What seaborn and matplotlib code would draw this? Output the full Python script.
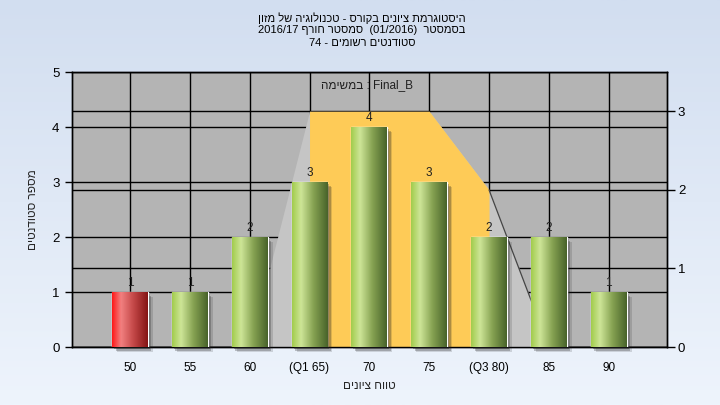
import numpy as np
import matplotlib
matplotlib.use("Agg")
import matplotlib.pyplot as plt
import matplotlib.transforms as mtransforms
from matplotlib.patches import Rectangle
from matplotlib.colors import LinearSegmentedColormap
import seaborn as sns

# נתונים
grades = ["50", "55", "60", "(Q1 65)", "70", "75", "(Q3 80)", "85", "90"]
counts = [1, 1, 2, 3, 4, 3, 2, 2, 1]
curve = [0, 0, 0, 3, 3, 3, 2, 0, 0]      # right axis area
q1_idx, q3_idx = 3, 6
fail_idx = 0


def heb(s):
    # matplotlib has no bidi, so flip the hebrew to visual order
    return s[::-1]


title_lines = [
    heb("היסטוגרמת ציונים בקורס - טכנולוגיה של מזון"),
    "2016/17 " + heb("סמסטר חורף") + "  (01/2016)  " + heb("בסמסטר"),
    "74 - " + heb("סטודנטים רשומים"),
]
task_text = heb("במשימה") + " : Final_B"
x_title = heb("טווח ציונים")
y_title = heb("מספר סטודנטים")

sns.set_style("white")
plt.rcParams['font.family'] = ['Liberation Sans', 'DejaVu Sans']

fig = plt.figure(figsize=(7.2, 4.05), dpi=100)

# רקע מדורג
bg = fig.add_axes([0, 0, 1, 1], zorder=-10)
grad = np.linspace(0, 1, 256).reshape(-1, 1)
bg_cmap = LinearSegmentedColormap.from_list("bg", ["#d2def0", "#eef4fc"])
bg.imshow(grad, cmap=bg_cmap, aspect='auto', extent=(0, 1, 0, 1))
bg.axis('off')

pos = [0.1, 0.1432, 0.826, 0.679]
xs = np.arange(len(grades))
xlim = (-0.97, 8.97)

ax = fig.add_axes(pos)
ax.set_facecolor("#b4b4b4")
ax.set_xlim(*xlim)
ax.set_ylim(0, 5)
ax.set_xticks(xs)
ax.set_xticklabels(grades, fontsize=8.5)
ax.set_yticks(range(6))
ax.tick_params(axis='y', labelsize=9.5, length=5, width=1, pad=4, colors='black')
ax.tick_params(axis='x', length=5, width=1, pad=6, colors='black')
ax.grid(True, color='black', lw=1)
ax.set_axisbelow(True)
for s in ax.spines.values():
    s.set_color('black')
    s.set_linewidth(1)
ax.set_xlabel(x_title, fontsize=8.5, labelpad=4)
ax.set_ylabel(y_title, fontsize=8.5, labelpad=9)

# ציר ימני + שטח
ax2 = ax.twinx()
ax2.set_ylim(0, 3.5)
ax2.set_yticks(range(4))
ax2.tick_params(axis='y', labelsize=9.5, length=6, width=1, pad=2, colors='black')
ax2.grid(True, axis='y', color='black', lw=1)
ax2.set_axisbelow(True)
for s in ax2.spines.values():
    s.set_color('black')
    s.set_linewidth(1)
ax2.fill_between(xs, curve, color="#c5c5c5", lw=0, zorder=1)
ax2.fill_between(xs[q1_idx:q3_idx + 1], curve[q1_idx:q3_idx + 1],
                 color="#fecb57", lw=0, zorder=2)
sns.lineplot(x=xs[q3_idx:q3_idx + 2], y=curve[q3_idx:q3_idx + 2], ax=ax2,
             color="#454545", lw=0.9, zorder=3)
ax2.set_xlim(*xlim)
ax2.set_ylim(0, 3.5)

# עמודות
ax3 = fig.add_axes(pos)
sns.barplot(x=grades, y=counts, order=grades, ax=ax3, width=0.6,
            color="#9cc848", saturation=1)
green = LinearSegmentedColormap.from_list(
    "g", [(0, "#a2cc4c"), (0.25, "#cde597"), (0.6, "#86a252"), (1, "#48632a")])
red = LinearSegmentedColormap.from_list(
    "r", [(0, "#ff1818"), (0.25, "#f28080"), (0.6, "#c44848"), (1, "#841414")])
hgrad = np.linspace(0, 1, 128).reshape(1, -1)
for i, p in enumerate(ax3.patches):
    x0, y0 = p.get_x(), p.get_y()
    w, h = p.get_width(), p.get_height()
    for off, a in [(2, 0.35), (3.5, 0.25), (5, 0.15)]:
        tr = ax3.transData + mtransforms.ScaledTranslation(off / 100, -off / 100,
                                                           fig.dpi_scale_trans)
        ax3.add_patch(Rectangle((x0, y0), w, h, transform=tr, color="#202020",
                                alpha=a, lw=0, zorder=1.5, clip_on=False))
    cmap = red if i == fail_idx else green
    ax3.imshow(hgrad, cmap=cmap, aspect='auto', extent=(x0, x0 + w, y0, y0 + h),
               zorder=3, interpolation='bilinear')
    p.set_facecolor('none')
    p.set_zorder(3)
ax3.bar_label(ax3.containers[0], padding=2, fontsize=8.5, color="#202020")
ax3.set_xlim(*xlim)
ax3.set_ylim(0, 5)
ax3.axis('off')

ax3.text(0.496, 0.953, task_text, transform=ax3.transAxes, ha='center',
         va='center', fontsize=8.5, color="#202020")

for j, line in enumerate(title_lines):
    fig.text(0.503, 0.955 - j * 0.03, line, ha='center', va='center',
             fontsize=8, color='black')

fig.savefig("out.png", dpi=100)
